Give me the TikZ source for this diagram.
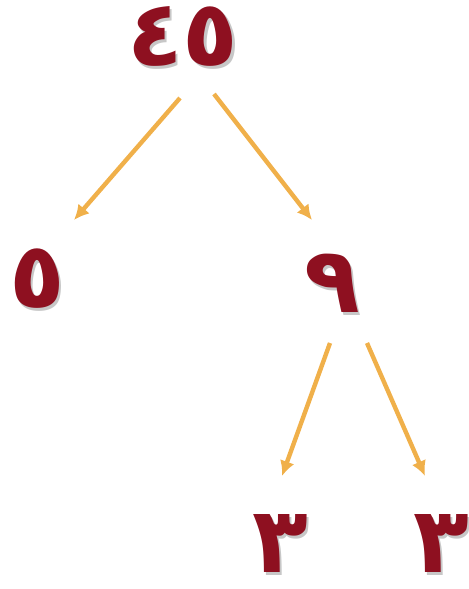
\documentclass[tikz,border=0pt]{standalone}
\usepackage{fontspec}
\usetikzlibrary{arrows.meta}
\newfontfamily\arabicfont{DejaVu Sans}
\definecolor{numred}{HTML}{8E1020}
\definecolor{arrorange}{HTML}{F0B04A}
% digit with a soft drop shadow
\newcommand\shadedigits[1]{\makebox[0pt][l]{\hspace{1.5pt}\raisebox{-1.5pt}{\color{black!22}#1}}#1}

\begin{document}
\begin{tikzpicture}[x=0.02cm, y=-0.02cm, >={Latex[length=0.3cm, width=0.3cm]},
  num/.style={inner sep=0pt, text=numred, font=\arabicfont\bfseries\fontsize{52}{56}\selectfont},
  arr/.style={->, draw=arrorange, fill=arrorange, line width=2.5pt}]
\useasboundingbox (0,0) rectangle (469,589);

% Zahlen
\node[num] (n45) at (183,38) {\shadedigits{٤٥}};
\node[num] (n5) at (37,280) {\shadedigits{٥}};
\node[num] (n9) at (332,285) {\shadedigits{٩}};
\node[num] (n3a) at (280,545) {\shadedigits{٣}};
\node[num] (n3b) at (441,545) {\shadedigits{٣}};

% Pfeile
\draw[arr] ([shift={(-3,60)}]n45.center) -- ([shift={(37,-60)}]n5.center);
\draw[arr] ([shift={(31,56)}]n45.center) -- ([shift={(-20,-65)}]n9.center);
\draw[arr] ([shift={(-2,58)}]n9.center) -- ([shift={(2,-69)}]n3a.center);
\draw[arr] ([shift={(35,58)}]n9.center) -- ([shift={(-16,-69)}]n3b.center);
\end{tikzpicture}
\end{document}
